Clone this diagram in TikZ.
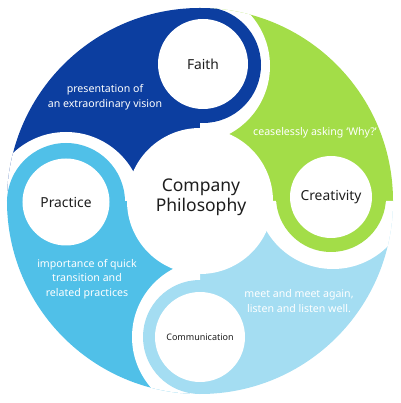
\documentclass[tikz,border=0pt]{standalone}
\usepackage{fontspec}
\setmainfont{Noto Sans}
\usepackage{tikz}
\definecolor{faithblue}{RGB}{12,62,160}
\definecolor{creagreen}{RGB}{163,221,72}
\definecolor{commblue}{RGB}{164,221,242}
\definecolor{pracblue}{RGB}{80,192,232}
\definecolor{labgray}{RGB}{30,30,30}

\begin{document}
\begin{tikzpicture}[x=1pt, y=1pt,
	head/.style={circle, fill=white, inner sep=0pt, text=labgray, font=\fontsize{13.8}{16}\selectfont},
	word/.style={text=white, align=center, font=\fontsize{10.6}{14.5}\selectfont}]
	\useasboundingbox (-200,-202) rectangle (200,201);
	\begin{scope}
		\clip (0,0) circle (193pt);
		% four quarters
		\fill[faithblue] (0,0) -- (90:300pt) -- (135:420pt) -- (180:300pt) -- cycle;
		\fill[pracblue] (0,0) -- (180:300pt) -- (225:420pt) -- (270:300pt) -- cycle;
		\fill[commblue] (0,0) -- (270:300pt) -- (315:420pt) -- (360:300pt) -- cycle;
		\fill[creagreen] (0,0) -- (0:300pt) -- (45:420pt) -- (90:300pt) -- cycle;
		% white gaps in front of each head
		\begin{scope}
			\clip (0,0) -- (0:300pt) -- (45:420pt) -- (90:300pt) -- cycle;
			\fill[white] (-7,135) circle (77pt);
		\end{scope}
		\begin{scope}
			\clip (0,0) -- (270:300pt) -- (315:420pt) -- (360:300pt) -- cycle;
			\fill[white] (133,9) circle (77pt);
		\end{scope}
		\begin{scope}
			\clip (0,0) -- (180:300pt) -- (225:420pt) -- (270:300pt) -- cycle;
			\fill[white] (9,-136) circle (77pt);
		\end{scope}
		\begin{scope}
			\clip (0,0) -- (90:300pt) -- (135:420pt) -- (180:300pt) -- cycle;
			\fill[white] (-134,-8) circle (77pt);
		\end{scope}
		% heads
		\fill[faithblue] (3,136) circle (58pt);
		\fill[creagreen] (131,4) circle (55pt);
		\fill[commblue] (0,-136) circle (57pt);
		\fill[pracblue] (-134,-1) circle (59pt);
		\fill[white] (0,0) circle (73pt);
	\end{scope}

	\node[head, minimum size=90pt] (faith) at (3,137) {Faith};
	\node[head, minimum size=82pt] (creat) at (131,4) {Creativity};
	\node[head, minimum size=90pt, font=\fontsize{9}{11}\selectfont] (comm) at (0,-136) {Communication};
	\node[head, minimum size=87pt] (prac) at (-134,-1) {Practice};
	\node[text=labgray, align=center, font=\fontsize{17.5}{20}\selectfont] (philo) at (1,4) {Company\\Philosophy};

	\node[word] (faithtxt) at (-95,104) {presentation of\\an extraordinary vision};
	\node[word] (creattxt) at (115,68) {ceaselessly asking `Why?'};
	\node[word] (practxt) at (-113,-78) {importance of quick\\transition and\\related practices};
	\node[word] (commtxt) at (99,-100) {meet and meet again,\\listen and listen well.};
\end{tikzpicture}
\end{document}
